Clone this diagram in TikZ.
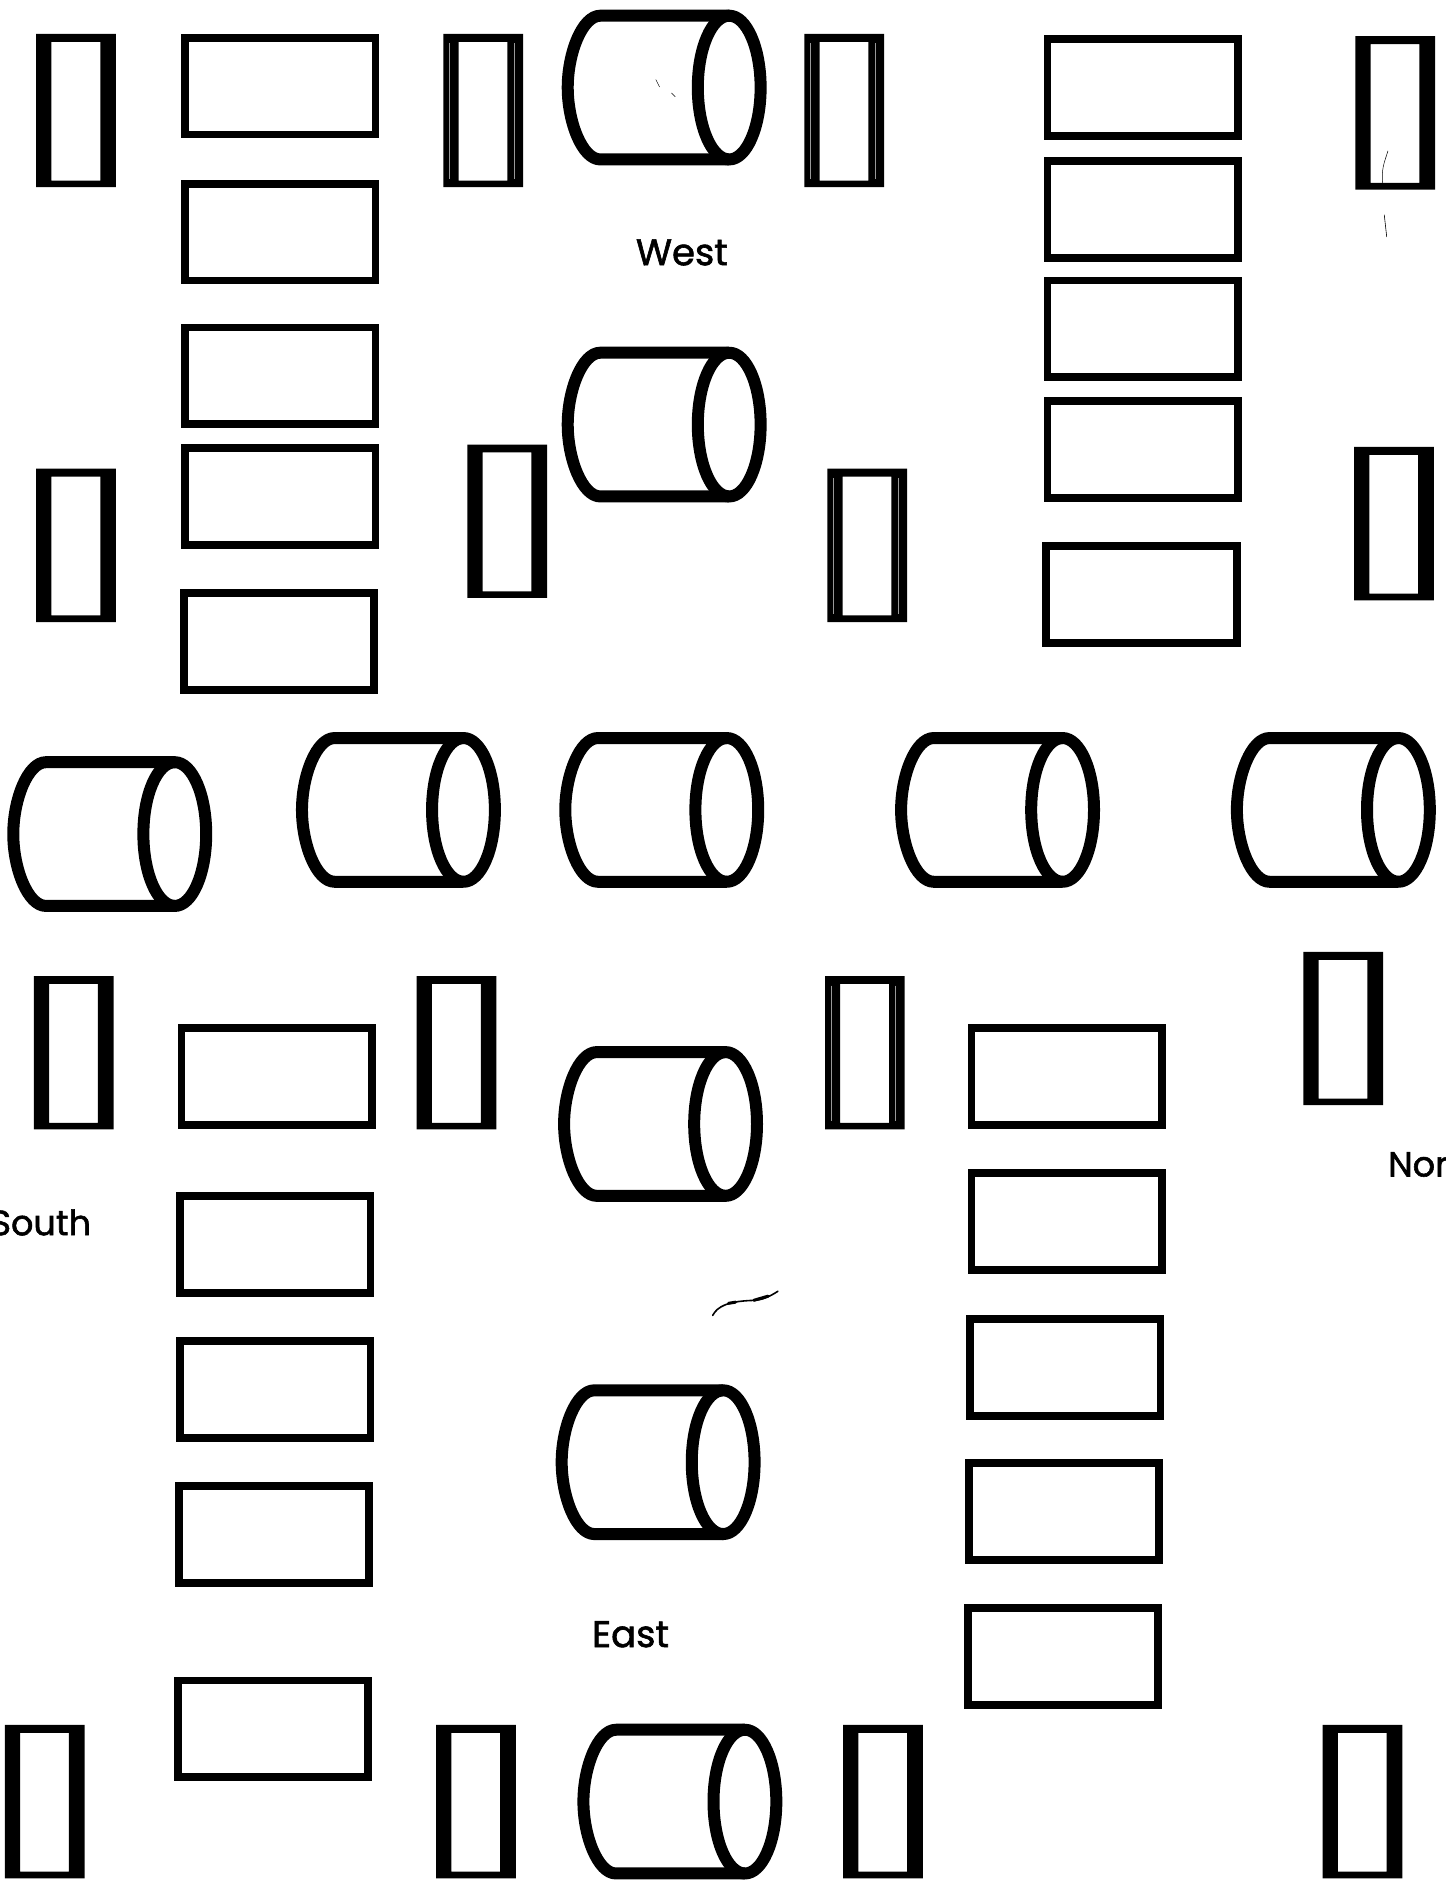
\documentclass[tikz,border=0pt]{standalone}
\usepackage{fontspec}
\setmainfont[FakeBold=1.6]{Poppins}
\tikzset{
  ink/.style={draw=black,line width=7.8pt,line join=miter},
  cylink/.style={draw=black,line width=12pt,line join=round,fill=none},
  lbl/.style={font=\fontsize{37}{40}\selectfont,text=black,inner sep=0pt},
  hair/.style={draw=black,line cap=round},
  widerect/.pic={\path[ink] (3.2,3.2) rectangle (160.8,83.3);},
  narrowrect/.pic={\fill[black,even odd rule] (0,0) rectangle (66,127) (12.6,6.6) rectangle (53,121.5);},
  narrowstreak/.pic={\fill[black,even odd rule] (0,0) rectangle (66,127) (12.6,6.6) rectangle (53,121.5);
     \draw[white,opacity=.6,line width=.8pt] (5,8)--(5,120) (58.5,8)--(58.5,120);},
  cylshape/.pic={
    \path[cylink] (138.7,5) -- (32,5) .. controls (17,5) and (5,36) .. (5,64.5)
       .. controls (5,93) and (17,124) .. (32,124) -- (138.7,124);
    \path[cylink] (138.7,64.5) ellipse [x radius=26,y radius=59.5];
  }
}
\begin{document}
\begin{tikzpicture}[x=1.20802pt,y=-1.20802pt]
\useasboundingbox (0,0) rectangle (1197,1568);
\fill[white] (0,0) rectangle (1197,1568);
% narrow rectangles
\foreach \x/\y in {30/28,1122/30,30/388,387/368,1121/370,28/808,345/808,1079/788,4/1428,361/1428,698/1428,1095/1428}
  \pic at (\x,\y) {narrowrect};
\foreach \x/\y in {367/28,666/28,685/388,683/808}
  \pic at (\x,\y) {narrowstreak};
% wide rectangles
\foreach \x/\y in {150/28,150/149,150/268,150/368,149/488,
                   864/29,864/130,864/229,864/329,863/449,
                   147/848,146/987,146/1107,145/1227,144/1388,
                   801/848,801/968,800/1089,799/1208,798/1328}
  \pic at (\x,\y) {widerect};
% cylinders
\foreach \x/\y in {465/8,465/287,6/626,245/606,463/606,741/606,1019/606,462/866,460/1146,478/1427}
  \pic at (\x,\y) {cylshape};
% labels
\node[lbl] (west) at (564.5,209) {West};
\node[lbl] (east) at (522,1353) {East};
\node[lbl,anchor=west,font=\fontsize{35}{38}\selectfont] (south) at (-8,1012) {South};
\node[lbl,anchor=west,font=\fontsize{35}{38}\selectfont] (north) at (1149,964) {Nor};
% pen marks
\draw[hair,line width=1.6pt] (590,1089) .. controls (594,1081) and (604,1078) .. (616,1077) .. controls (626,1076) and (630,1078) .. (644,1069);
\draw[hair,line width=3pt] (603,1079) -- (609,1078) (624,1076.5) -- (636,1073);
\draw[hair,line width=0.6pt] (1146,178) -- (1148,196);
\draw[hair,line width=0.5pt] (1145,155) .. controls (1143,140) and (1146,135) .. (1149,125);
\draw[hair,line width=0.5pt] (543,66) -- (546,72) (556,77) -- (559,80);
\end{tikzpicture}
\end{document}
